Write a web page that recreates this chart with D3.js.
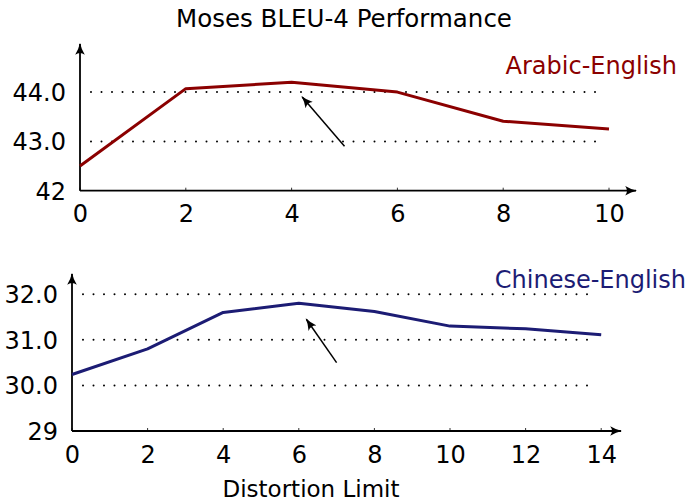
<!DOCTYPE html>
<html><head><meta charset="utf-8">
<script src="https://cdn.jsdelivr.net/npm/d3@7"></script>
<style>
body{margin:0;background:#fff;}
text{font-family:"DejaVu Sans",sans-serif;}
</style></head><body>
<svg id="c" width="688" height="501"></svg>
<script>
const title = "Moses BLEU-4 Performance";
const xLabel = "Distortion Limit";
// Panel 1: Arabic-English
const arLabel = "Arabic-English";
const arX = [0, 2, 4, 6, 8, 10];
const arY = [42.5, 44.07, 44.2, 44.0, 43.41, 43.25];
const arYTicks = [42, 43, 44];
const arYTickLabels = ["42", "43.0", "44.0"];
const arGrid = [43, 44];
const arArrow = [[5.0, 42.9], [4.2, 43.9]];
// Panel 2: Chinese-English
const zhLabel = "Chinese-English";
const zhX = [0, 2, 4, 6, 8, 10, 12, 14];
const zhY = [30.24, 30.8, 31.6, 31.8, 31.62, 31.3, 31.24, 31.11];
const zhYTicks = [29, 30, 31, 32];
const zhYTickLabels = ["29", "30.0", "31.0", "32.0"];
const zhGrid = [30, 31, 32];
const zhArrow = [[7.0, 30.5], [6.2, 31.45]];

const svg = d3.select("#c");
const defs = svg.append("defs");
defs.append("marker").attr("id","ah2").attr("viewBox","0 0 10 10")
  .attr("refX",9).attr("refY",5).attr("markerWidth",12).attr("markerHeight",12)
  .attr("markerUnits","userSpaceOnUse").attr("orient","auto")
  .append("path").attr("d","M0,1 Q5,4 10,5 Q5,6 0,9 Q3,5 0,1 Z").attr("fill","#000");

svg.append("text").attr("x",344).attr("y",27).attr("text-anchor","middle")
  .attr("font-size",24.5).text(title);

function panel(o){
  const x = d3.scaleLinear().domain(o.xDom).range(o.xRange);
  const y = d3.scaleLinear().domain(o.yDom).range(o.yRange);
  const g = svg.append("g");
  // grid
  o.grid.forEach(v=>{
    g.append("line").attr("x1",x(o.xDom[0])+11).attr("x2",x(o.gridEnd))
      .attr("y1",y(v)).attr("y2",y(v)).attr("stroke","#000").attr("stroke-width",2)
      .attr("stroke-linecap","round").attr("stroke-dasharray","0 10.5");
  });
  // axes
  g.append("line").attr("x1",x(o.xDom[0])).attr("x2",o.xArrow).attr("y1",y(o.yDom[0])).attr("y2",y(o.yDom[0]))
    .attr("stroke","#000").attr("stroke-width",1.8).attr("marker-end","url(#ah2)");
  g.append("line").attr("x1",x(o.xDom[0])).attr("x2",x(o.xDom[0])).attr("y1",y(o.yDom[0])).attr("y2",o.yArrow)
    .attr("stroke","#000").attr("stroke-width",1.8).attr("marker-end","url(#ah2)");
  // x ticks
  const xa = d3.axisBottom(x).tickValues(o.xs).tickSize(0).tickPadding(o.xPad).tickFormat(d3.format("d"));
  const xg = g.append("g").attr("transform",`translate(0,${y(o.yDom[0])})`).call(xa);
  xg.select(".domain").remove();
  xg.selectAll("text").attr("font-size",24).attr("font-family","DejaVu Sans").attr("fill","#000");
  o.xs.forEach(v=>{ g.append("line").attr("x1",x(v)).attr("x2",x(v)).attr("y1",y(o.yDom[0])).attr("y2",y(o.yDom[0])-3).attr("stroke","#000").attr("stroke-width",0.8);});
  // y ticks
  const ya = d3.axisLeft(y).tickValues(o.yTicks).tickSize(0).tickPadding(o.yPad)
    .tickFormat((d,i)=>o.yTickLabels[i]);
  const yg = g.append("g").attr("transform",`translate(${x(o.xDom[0])},0)`).call(ya);
  yg.select(".domain").remove();
  yg.selectAll("text").attr("font-size",24).attr("font-family","DejaVu Sans").attr("fill","#000").attr("dy","0.35em");
  // line
  const line = d3.line().x((d,i)=>x(o.xs[i])).y(d=>y(d));
  g.append("path").datum(o.ys).attr("d",line).attr("fill","none")
    .attr("stroke",o.color).attr("stroke-width",3).attr("stroke-linejoin","round");
  // annotation arrow
  g.append("line").attr("x1",x(o.arrow[0][0])).attr("y1",y(o.arrow[0][1]))
    .attr("x2",x(o.arrow[1][0])).attr("y2",y(o.arrow[1][1]))
    .attr("stroke","#000").attr("stroke-width",1.5).attr("marker-end","url(#ah2)");
  // label
  g.append("text").attr("x",o.labelX).attr("y",o.labelY).attr("text-anchor","end")
    .attr("font-size",24).attr("fill",o.color).text(o.label);
}

panel({xDom:[0,10], xRange:[80,609], yDom:[42,45], yRange:[190.7,42.8],
  xs:arX, ys:arY, yTicks:arYTicks, yTickLabels:arYTickLabels, grid:arGrid, gridEnd:9.83,
  xArrow:636, yArrow:44, yPad:14, xPad:14, arrow:arArrow, color:"#8b0000",
  label:arLabel, labelX:677, labelY:74});
panel({xDom:[0,14], xRange:[72,601.2], yDom:[29,32.5], yRange:[431,271.4],
  xs:zhX, ys:zhY, yTicks:zhYTicks, yTickLabels:zhYTickLabels, grid:zhGrid, gridEnd:13.8,
  xArrow:621, yArrow:274, yPad:14, xPad:15, arrow:zhArrow, color:"#1c1c74",
  label:zhLabel, labelX:686, labelY:288});

svg.append("text").attr("x",311).attr("y",497).attr("text-anchor","middle")
  .attr("font-size",23).text(xLabel);
</script>
</body></html>
